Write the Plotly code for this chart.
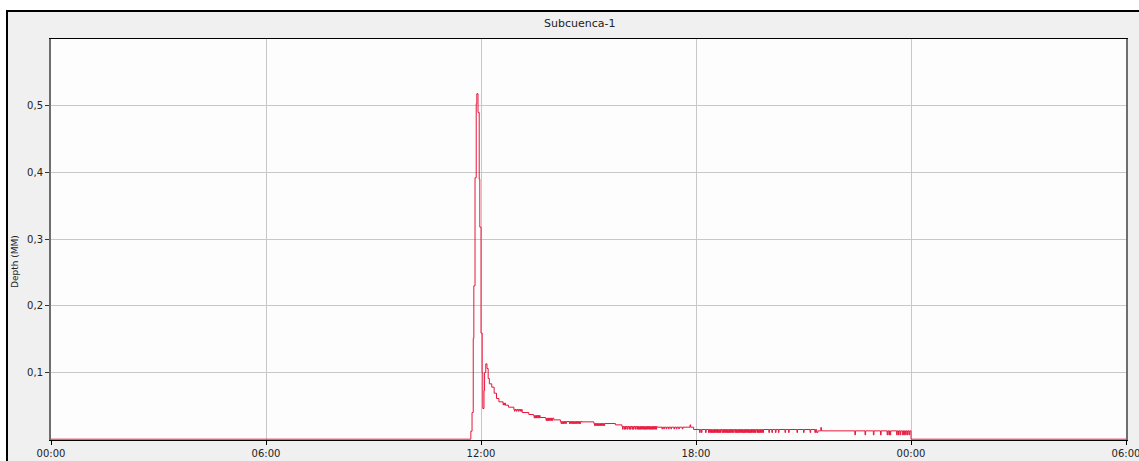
import bisect
import plotly.graph_objects as go

# ---------------- data (time in minutes from 00:00, depth in mm) ----------------
base_minutes = [0, 703, 705, 707, 708, 710, 712, 713, 715, 717, 718, 720, 722, 723, 725,
                726, 728, 730, 732, 734, 738, 742, 746, 750, 757, 761, 766, 775, 789, 800,
                808, 819, 828, 842, 853, 889, 909, 945, 956, 1015, 1076, 1282, 1284, 1440, 1800]
base_depth = [0, 0.012, 0.040, 0.151, 0.230, 0.392, 0.503, 0.518, 0.490, 0.390, 0.318,
              0.159, 0.099, 0.046, 0.073, 0.100, 0.113, 0.106, 0.091, 0.083, 0.078, 0.069,
              0.061, 0.056, 0.054, 0.051, 0.048, 0.0445, 0.040, 0.037, 0.0355, 0.0325,
              0.0315, 0.029, 0.0265, 0.026, 0.0235, 0.0215, 0.019, 0.018, 0.0145, 0.010,
              0.0125, 0, 0]

# short one-minute excursions (the "comb" of flickering values in the recession)
flicker_1_minutes = [757, 759]
flicker_1_depth = 0.0515
flicker_2_minutes = [776, 779, 782, 785, 787]
flicker_2_depth = 0.042
flicker_3_minutes = [809, 811, 813, 815, 817]
flicker_3_depth = 0.032
flicker_4_minutes = [829, 831, 833, 835, 837, 839]
flicker_4_depth = 0.028
flicker_5_minutes = [854, 856, 858, 860, 862, 868, 870, 872, 874, 876, 878, 880, 882, 884, 886]
flicker_5_depth = 0.0235
flicker_6_minutes = [910, 912, 914, 916, 918, 920, 922, 924, 926]
flicker_6_depth = 0.0205
flicker_7_minutes = [957, 960, 962, 965, 968, 970, 973, 975, 978, 981, 983, 985, 987, 989,
                     991, 993, 995, 997, 999, 1001, 1003, 1005, 1007, 1009, 1011, 1013]
flicker_7_depth = 0.015
flicker_8_minutes = [1023, 1026, 1030, 1034, 1038, 1043, 1047, 1051, 1057]
flicker_8_depth = 0.0155
flicker_9_minutes = [1070]
flicker_9_depth = 0.0215
flicker_10_minutes = [1086, 1089, 1096, 1101, 1103, 1105, 1107, 1109, 1111, 1113, 1115, 1117,
                      1119, 1121, 1124, 1126, 1128, 1130, 1132, 1134, 1136, 1138, 1140, 1142,
                      1145, 1147, 1149, 1151, 1153, 1155, 1157, 1159, 1161, 1163, 1165, 1167,
                      1169, 1171, 1173, 1175, 1177, 1179, 1182, 1184, 1186, 1188, 1190, 1192,
                      1202, 1207, 1213, 1218, 1229, 1235, 1249, 1260, 1271, 1279]
flicker_10_depth = 0.010
flicker_11_minutes = [1289]
flicker_11_depth = 0.0175
flicker_12_minutes = [1346, 1363, 1377, 1389, 1400, 1403, 1405, 1416, 1419, 1422, 1426,
                      1428, 1431, 1434, 1437]
flicker_12_depth = 0.0065

x_tick_hours = [0, 6, 12, 18, 24, 30]
x_tick_labels = ["00:00", "06:00", "12:00", "18:00", "00:00", "06:00"]
y_tick_values = [0.1, 0.2, 0.3, 0.4, 0.5]
y_tick_labels = ["0,1", "0,2", "0,3", "0,4", "0,5"]

chart_title = "Subcuenca-1"
y_title = "Depth (MM)"

# ---------------- assemble the step series ----------------
flicker_groups = [
    (flicker_1_minutes, flicker_1_depth), (flicker_2_minutes, flicker_2_depth),
    (flicker_3_minutes, flicker_3_depth), (flicker_4_minutes, flicker_4_depth),
    (flicker_5_minutes, flicker_5_depth), (flicker_6_minutes, flicker_6_depth),
    (flicker_7_minutes, flicker_7_depth), (flicker_8_minutes, flicker_8_depth),
    (flicker_9_minutes, flicker_9_depth), (flicker_10_minutes, flicker_10_depth),
    (flicker_11_minutes, flicker_11_depth), (flicker_12_minutes, flicker_12_depth),
]


def base_at(t):
    i = bisect.bisect_right(base_minutes, t) - 1
    return base_depth[i]


pts = [(t, v, 0) for t, v in zip(base_minutes, base_depth)]
for times, d in flicker_groups:
    for t in times:
        pts.append((t, d, 1))
        pts.append((t + 1, base_at(t + 1), 2))
pts.sort(key=lambda p: (p[0], p[2]))

xs = [p[0] / 60.0 for p in pts]
ys = [p[1] for p in pts]

# ---------------- figure ----------------
W, H = 1139, 461
L, R, T, B = 51, 13, 39, 21
PW, PH = W - L - R, H - T - B


def px(p):
    return (p - L) / PW


def py(p):
    return (H - B - p) / PH


FONT = "DejaVu Sans"

fig = go.Figure()
fig.add_trace(go.Scatter(
    x=xs, y=ys, mode="lines", line=dict(color="#E5173C", width=1, shape="hv"),
    showlegend=False, hoverinfo="skip",
))

fig.update_layout(
    width=W, height=H,
    margin=dict(l=L, r=R, t=T, b=B, pad=0, autoexpand=False),
    paper_bgcolor="#F0F0F0",
    plot_bgcolor="#FDFDFD",
    showlegend=False,
    xaxis=dict(
        range=[0, 30], tickvals=x_tick_hours, ticktext=x_tick_labels,
        showgrid=True, gridcolor="#C8C8C8", gridwidth=1, zeroline=False,
        showline=True, linecolor="#000000", linewidth=1, mirror=True,
        ticks="outside", ticklen=4, tickcolor="#000000", tickwidth=1,
        tickfont=dict(family=FONT, size=10, color="#222222"),
        layer="below traces", fixedrange=True, automargin=False,
        ticklabeloverflow="allow",
    ),
    yaxis=dict(
        range=[-0.0012, 0.6], tickvals=y_tick_values, ticktext=y_tick_labels,
        showgrid=True, gridcolor="#C8C8C8", gridwidth=1, zeroline=False,
        showline=True, linecolor="#6E6E6E", linewidth=2, mirror=True,
        ticks="outside", ticklen=4, tickcolor="#333333", tickwidth=1,
        tickfont=dict(family=FONT, size=10, color="#222222"),
        layer="below traces", fixedrange=True, automargin=False,
    ),
    annotations=[
        dict(text=chart_title, x=px(579), y=py(23), xref="paper", yref="paper",
             showarrow=False, xanchor="center", yanchor="middle",
             font=dict(family=FONT, size=11, color="#222222")),
        dict(text=y_title, x=px(15), y=py(262), xref="paper", yref="paper",
             showarrow=False, xanchor="center", yanchor="middle", textangle=-90,
             font=dict(family=FONT, size=9, color="#222222")),
    ],
    shapes=[
        dict(type="rect", xref="paper", yref="paper", x0=px(0), x1=px(6), y0=py(H), y1=py(0),
             fillcolor="#FFFFFF", line=dict(width=0)),
        dict(type="rect", xref="paper", yref="paper", x0=px(0), x1=px(W), y0=py(10), y1=py(0),
             fillcolor="#FFFFFF", line=dict(width=0)),
        dict(type="line", xref="paper", yref="paper", x0=px(7), x1=px(7), y0=py(10), y1=py(H),
             line=dict(color="#000000", width=2)),
        dict(type="line", xref="paper", yref="paper", x0=px(6), x1=px(W), y0=py(11), y1=py(11),
             line=dict(color="#000000", width=2)),
    ],
)

fig.write_html(
    "out.html",
    config={"displayModeBar": False},
    post_script="document.body.style.margin='0';document.body.style.overflow='hidden';",
)
